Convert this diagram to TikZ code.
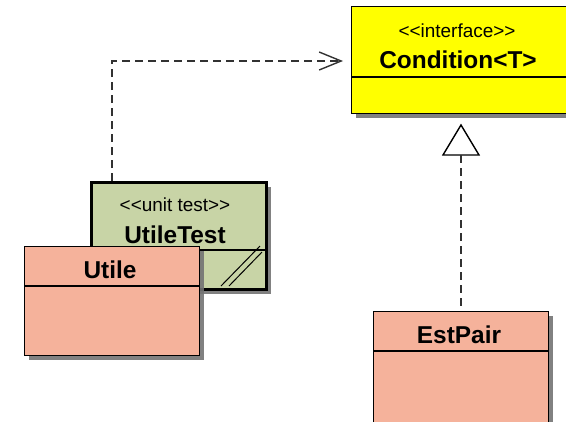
\documentclass[tikz,border=0pt]{standalone}
\usepackage{fontspec}
\setmainfont{Liberation Sans}
\usetikzlibrary{arrows.meta, shadows}

\definecolor{ifyellow}{RGB}{255,255,0}
\definecolor{testgreen}{RGB}{200,212,166}
\definecolor{salmon}{RGB}{245,178,155}
\definecolor{lnk}{RGB}{50,50,50}

\tikzset{
	classbox/.style={draw=black, line width=1.4bp, inner sep=0, anchor=north west,
		minimum width=175bp, drop shadow={shadow xshift=4bp, shadow yshift=-4bp, fill=black!55, opacity=0.9}},
	stereo/.style={font=\fontsize{19}{19}\selectfont},
	cname/.style={font=\bfseries\fontsize{24.5}{24.5}\selectfont},
	dep/.style={lnk, line width=1.4bp, dash pattern=on 8bp off 5bp},
}

\begin{document}
\begin{tikzpicture}[x=1bp, y=-1bp]
\useasboundingbox (0,0) rectangle (566,421);
\clip (0,0) rectangle (566,421);

%interface
\node[classbox, fill=ifyellow, minimum width=230bp, minimum height=107bp] (condition) at (351,6) {};
\draw[line width=1.4bp] (351,77) -- (581,77);
\node[stereo] (condstereo) at (457,31) {<{}<interface>{}>};
\node[cname] (condname) at (458,60) {Condition<T>};

%unit test
\node[classbox, fill=testgreen, line width=3.2bp, minimum height=107bp] (utiletest) at (90,181) {};
\draw[line width=1.4bp] (90,250) -- (265,250);
\draw[line width=1bp] (221,286) -- (260,246);
\draw[line width=1bp] (229,286) -- (262,252);
\node[stereo] (teststereo) at (175,205) {<{}<unit test>{}>};
\node[cname] (testname) at (175,235) {UtileTest};

%classes
\node[classbox, fill=salmon, minimum height=109bp] (utile) at (24,246) {};
\draw[line width=1.4bp] (24,286) -- (199,286);
\node[cname] (utilename) at (110,270) {Utile};

\node[classbox, fill=salmon, minimum height=130bp] (estpair) at (373,311) {};
\draw[line width=1.4bp] (373,351) -- (548,351);
\node[cname] (estname) at (459,335) {EstPair};

%links
\coordinate (deptip) at (343,61);
\draw[dep, -{Straight Barb[length=22bp, width=18bp, line width=1.4bp]}]
	([xshift=22bp]utiletest.north west) |- (deptip);

\coordinate (triapex) at (461,125);
\coordinate (tribase) at (461,155);
\draw[line width=1.4bp, fill=white] (triapex) -- (443,155) -- (479,155) -- cycle;
\draw[dep] (tribase) -- (tribase |- estpair.north);

\end{tikzpicture}
\end{document}
